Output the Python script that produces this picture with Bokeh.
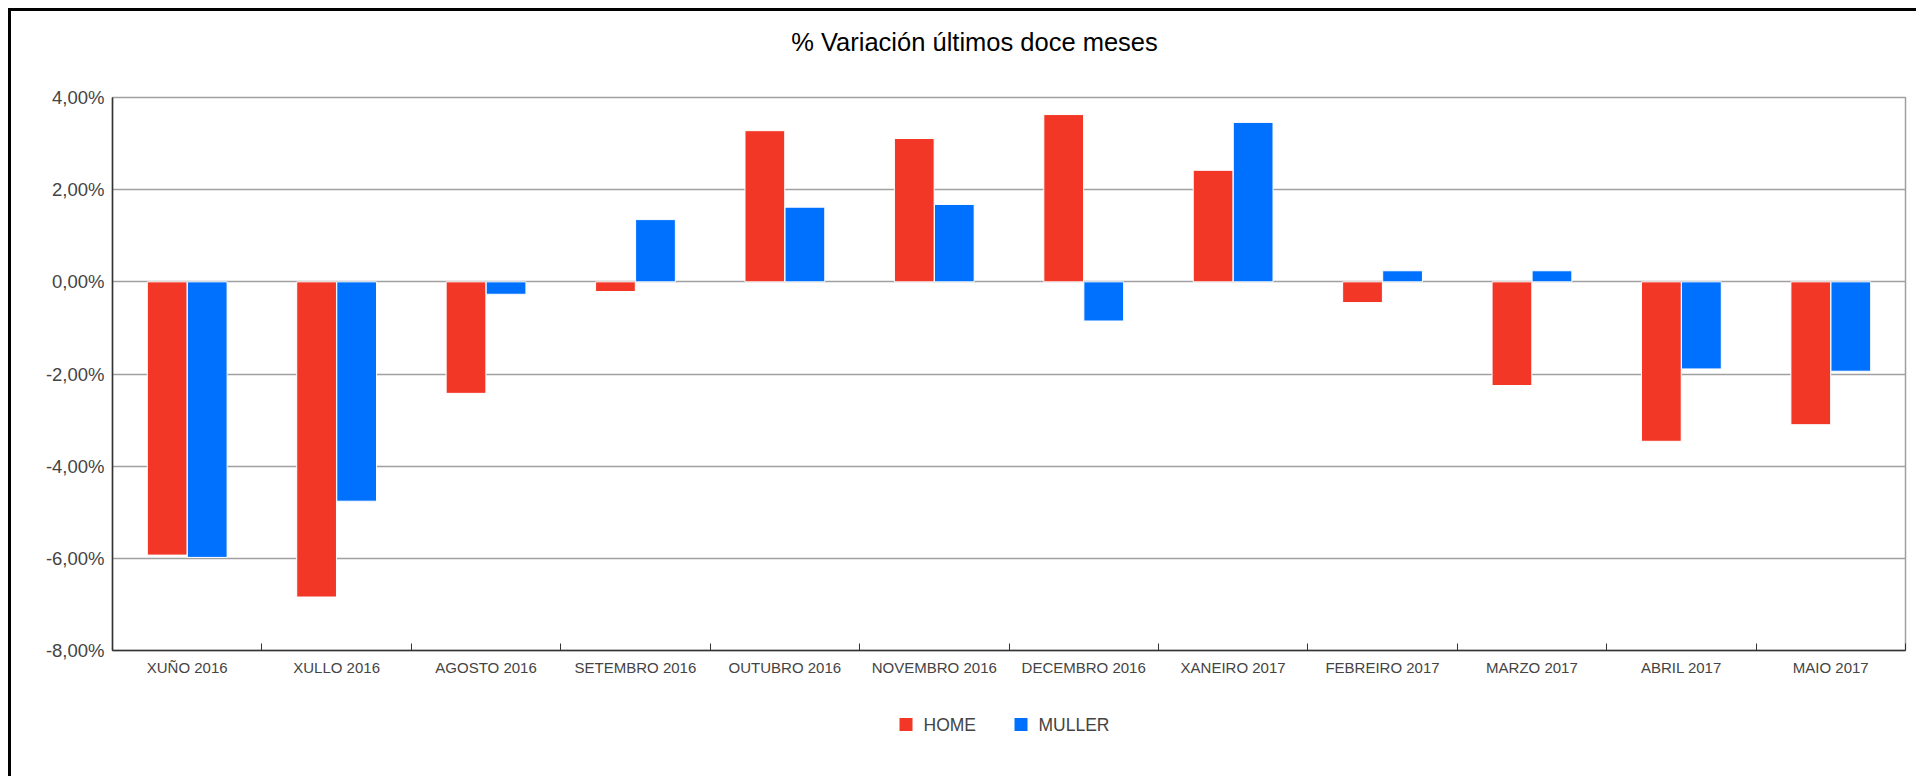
from bokeh.plotting import figure
from bokeh.layouts import column
from bokeh.models import FixedTicker, Label
from bokeh.embed import file_html
from bokeh.resources import INLINE
from bokeh.core.properties import value
import numpy as np

categories = ["XUÑO 2016", "XULLO 2016", "AGOSTO 2016", "SETEMBRO 2016", "OUTUBRO 2016",
              "NOVEMBRO 2016", "DECEMBRO 2016", "XANEIRO 2017", "FEBREIRO 2017",
              "MARZO 2017", "ABRIL 2017", "MAIO 2017"]
home = [-5.93, -6.84, -2.42, -0.21, 3.28, 3.11, 3.63, 2.42, -0.45, -2.25, -3.46, -3.10]
muller = [-5.98, -4.76, -0.27, 1.35, 1.62, 1.68, -0.85, 3.46, 0.24, 0.24, -1.89, -1.94]
y_ticks = [-8, -6, -4, -2, 0, 2, 4]
y_tick_labels = ["-8,00%", "-6,00%", "-4,00%", "-2,00%", "0,00%", "2,00%", "4,00%"]
series_names = ["HOME", "MULLER"]
series_colors = ["#f23727", "#0070ff"]
title_text = "% Variación últimos doce meses"

FONT = "Liberation Sans"
W = 1905
LEFT, RIGHT = 101, 11
H_TITLE, H_MAIN, H_LEG = 60, 619, 86


def strip(h):
    # column aligns frames with the main chart, so map data to content pixels
    f = figure(width=W, height=h, output_backend="svg", toolbar_location=None,
               x_range=(LEFT, W - RIGHT), y_range=(0, h), x_axis_type=None, y_axis_type=None,
               min_border_left=0, min_border_right=0, min_border_top=0, min_border_bottom=0)
    f.grid.visible = False
    f.outline_line_color = None
    return f


# title strip
tt = strip(H_TITLE)
tt.add_layout(Label(x=963, y=30, text=title_text, text_align="center", text_baseline="middle",
                    text_font=FONT, text_font_size="25.5px", text_color="#000000"))

# main chart
p = figure(width=W, height=H_MAIN, output_backend="svg", toolbar_location=None,
           x_range=(0, len(categories)), y_range=(-8, 4),
           min_border_left=LEFT, min_border_right=RIGHT, min_border_top=26, min_border_bottom=40)

idx = np.arange(len(categories))
centers = idx + 0.5
bw = 0.266
p.vbar(x=centers - 0.134, top=home, bottom=0, width=bw,
       fill_color=series_colors[0], line_color="white", line_width=1)
p.vbar(x=centers + 0.134, top=muller, bottom=0, width=bw,
       fill_color=series_colors[1], line_color="white", line_width=1)

p.xaxis.ticker = FixedTicker(ticks=list(centers), minor_ticks=list(range(len(categories) + 1)))
p.xaxis.major_label_overrides = {float(c): lab for c, lab in zip(centers, categories)}
p.xaxis.major_tick_in = 0
p.xaxis.major_tick_out = 0
p.xaxis.minor_tick_in = 7
p.xaxis.minor_tick_out = 0
p.xaxis.minor_tick_line_color = "#333333"
p.xaxis.axis_line_color = "#333333"
p.xaxis.axis_line_width = 1.5
p.xaxis.major_label_text_font = FONT
p.xaxis.major_label_text_font_size = "15px"
p.xaxis.major_label_text_color = "#444444"
p.xaxis.major_label_standoff = 8

p.yaxis.ticker = FixedTicker(ticks=y_ticks)
p.yaxis.major_label_overrides = {float(t): lab for t, lab in zip(y_ticks, y_tick_labels)}
p.yaxis.major_tick_in = 0
p.yaxis.major_tick_out = 0
p.yaxis.minor_tick_line_color = None
p.yaxis.axis_line_color = "#333333"
p.yaxis.axis_line_width = 1.5
p.yaxis.major_label_text_font = FONT
p.yaxis.major_label_text_font_size = "18.5px"
p.yaxis.major_label_text_color = "#444444"
p.yaxis.major_label_standoff = 8

p.xgrid.visible = False
p.ygrid.ticker = FixedTicker(ticks=y_ticks)
p.ygrid.grid_line_color = "#a0a0a0"
p.ygrid.grid_line_width = 1.5
p.outline_line_color = "#a0a0a0"
p.outline_line_width = 1.5

# legend strip
lg = strip(H_LEG)
leg_x0, leg_step, leg_y = 894.5, 115, 52
sq_x = [leg_x0 + i * leg_step for i in range(len(series_names))]
lg.rect(x=sq_x, y=leg_y, width=13, height=13, fill_color=series_colors, line_color=None)
lg.text(x=[x + 17.5 for x in sq_x], y=leg_y, text=series_names, text_align="left",
        text_baseline="middle", text_font=value(FONT), text_font_size="17.5px",
        text_color="#444444")

layout = column(tt, p, lg, spacing=0)
layout.styles = {"border-top": "3px solid black", "border-left": "3px solid black",
                 "margin-left": "8px", "margin-top": "8px"}

open("out.html", "w").write(file_html(layout, INLINE))
